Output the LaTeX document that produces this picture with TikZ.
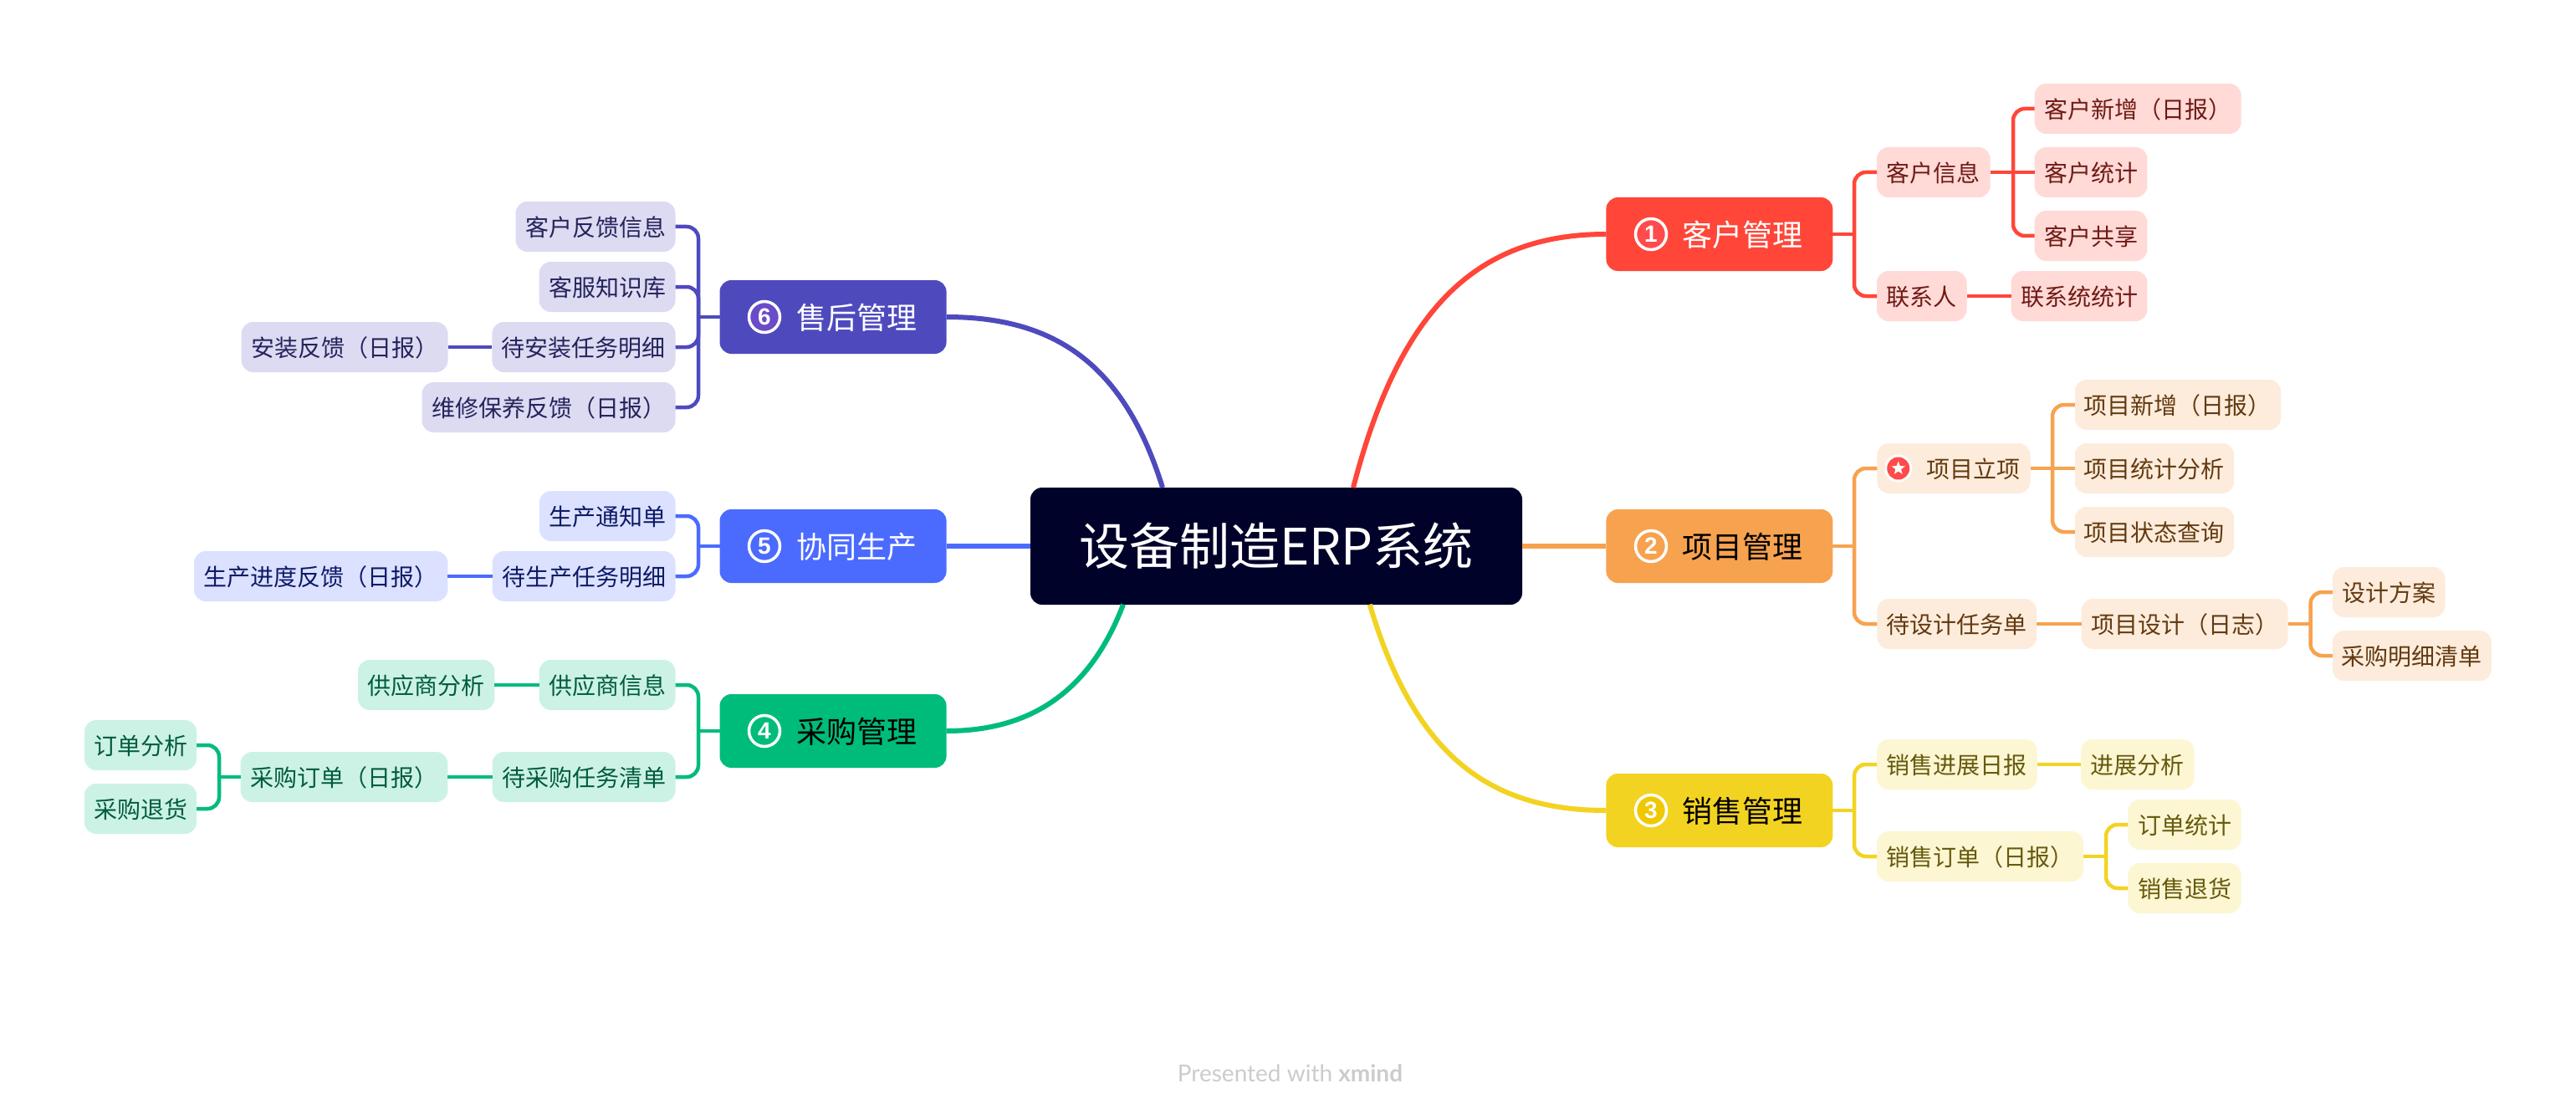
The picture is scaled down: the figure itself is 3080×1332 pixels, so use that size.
\documentclass[tikz,border=0pt]{standalone}
\usepackage{fontspec}
\usetikzlibrary{shapes.geometric}
\setmainfont{Noto Sans CJK SC}
\newfontfamily\footfont{Lato}
\newfontfamily\digitfont{Liberation Sans}
\definecolor{cR}{HTML}{FF4639}\definecolor{lR}{HTML}{FFDAD7}\definecolor{tR}{HTML}{701A14}
\definecolor{cO}{HTML}{F7A24F}\definecolor{lO}{HTML}{FDECDC}\definecolor{tO}{HTML}{633A10}
\definecolor{cY}{HTML}{F3D321}\definecolor{lY}{HTML}{FCF6D3}\definecolor{tY}{HTML}{665A0C}
\definecolor{cG}{HTML}{00BC7B}\definecolor{lG}{HTML}{CCF2E5}\definecolor{tG}{HTML}{005C3C}
\definecolor{cB}{HTML}{4B6BFF}\definecolor{lB}{HTML}{DBE1FF}\definecolor{tB}{HTML}{0C1A66}
\definecolor{cP}{HTML}{4E4ABE}\definecolor{lP}{HTML}{DCDBF2}\definecolor{tP}{HTML}{25235C}
\definecolor{rootc}{HTML}{000229}
\definecolor{bY}{HTML}{F0C800}\definecolor{bP}{HTML}{6A4CC8}\definecolor{bR}{HTML}{FF4B4B}
\tikzset{
  boxbase/.style={rectangle,rounded corners=14pt,inner sep=0pt,outer sep=0pt,align=center},
  subbox/.style={boxbase,minimum height=60pt,text height=27pt,text depth=4pt,font=\fontsize{28}{34}\selectfont},
  mainbox/.style={boxbase,minimum height=88pt,text height=34pt,text depth=5pt,font=\fontsize{36}{44}\selectfont},
  sR/.style={subbox,fill=lR,text=tR},sO/.style={subbox,fill=lO,text=tO},sY/.style={subbox,fill=lY,text=tY},
  sG/.style={subbox,fill=lG,text=tG},sB/.style={subbox,fill=lB,text=tB},sP/.style={subbox,fill=lP,text=tP},
  elbow/.style={line width=4.5pt},
  trunk/.style={line width=6pt},
  badge/.style={circle,draw=white,line width=3.5pt,minimum size=37pt,inner sep=0pt,text=white,font=\digitfont\bfseries\fontsize{28}{30}\selectfont},
}
% name, x1, x2, cy, style, text
\newcommand\boxn[6]{\pgfmathsetmacro\bxc{(#2+#3)/2}\pgfmathsetmacro\bxw{#3-#2}\node[#5,minimum width=\bxw pt] (#1) at (\bxc,#4) {#6};}
% parent, spine coordinate, child (elbow)
\newcommand\elb[4]{\draw[elbow,#4] (#1) -- (#2|-#1);\draw[elbow,#4,rounded corners=14pt] (#2|-#1) |- (#3);}
\begin{document}
\begin{tikzpicture}[x=1pt,y=-1pt]
\useasboundingbox (0,0) rectangle (3080,1332);
\fill[white] (0,0) rectangle (3080,1332);
% root
\node[boxbase,fill=rootc,text=white,minimum width=588pt,minimum height=140pt,text height=52pt,text depth=8pt,font=\fontsize{60}{70}\selectfont] (root) at (1526,653) {设备制造ERP系统};
% main topics
\boxn{m1}{1920.4}{2191.3}{280}{mainbox,fill=cR,text=white}{\hspace*{56pt}客户管理}
\boxn{m2}{1920.4}{2191.3}{653}{mainbox,fill=cO,text=black}{\hspace*{56pt}项目管理}
\boxn{m3}{1920.4}{2191.3}{969}{mainbox,fill=cY,text=black}{\hspace*{56pt}销售管理}
\boxn{m4}{860.5}{1131.6}{874}{mainbox,fill=cG,text=black}{\hspace*{56pt}采购管理}
\boxn{m5}{860.5}{1131.6}{653}{mainbox,fill=cB,text=white}{\hspace*{56pt}协同生产}
\boxn{m6}{860.5}{1131.6}{379}{mainbox,fill=cP,text=white}{\hspace*{56pt}售后管理}
\node[badge,fill=bR] (b1) at (1974,280) {1};
\node[badge,fill=cO] (b2) at (1974,653) {2};
\node[badge,fill=bY] (b3) at (1974,969) {3};
\node[badge,fill=cG] (b4) at (914,874) {4};
\node[badge,fill=cB] (b5) at (914,653) {5};
\node[badge,fill=bP] (b6) at (914,379) {6};
% red
\boxn{a1}{2244}{2379.6}{206}{sR}{客户信息}
\boxn{a2}{2244}{2351.5}{354}{sR}{联系人}
\boxn{a11}{2432.6}{2679.6}{130}{sR}{客户新增（日报）}
\boxn{a12}{2432.6}{2567.4}{206}{sR}{客户统计}
\boxn{a13}{2432.6}{2567.4}{282}{sR}{客户共享}
\boxn{a21}{2404.6}{2567.4}{354}{sR}{联系统统计}
% orange
\boxn{o1}{2244.4}{2427.5}{560}{sO}{\hspace*{48pt}项目立项}
\boxn{o2}{2244.4}{2435}{746}{sO}{待设计任务单}
\boxn{o11}{2480.8}{2727}{484}{sO}{项目新增（日报）}
\boxn{o12}{2480.8}{2671}{560}{sO}{项目统计分析}
\boxn{o13}{2480.8}{2671}{636}{sO}{项目状态查询}
\boxn{o21}{2488.6}{2735.5}{746}{sO}{项目设计（日志）}
\boxn{o211}{2788.8}{2923.5}{708}{sO}{设计方案}
\boxn{o212}{2788.8}{2979}{784}{sO}{采购明细清单}
\node[circle,fill=white,minimum size=33pt,inner sep=0pt] (ring) at (2269.7,560) {};
\node[circle,fill=bR,minimum size=27pt,inner sep=0pt] (dot) at (2269.7,560) {};
\node[star,star points=5,star point ratio=2.4,fill=white,minimum size=17pt,inner sep=0pt] (starico) at (2269.7,560) {};
% yellow
\boxn{y1}{2244}{2435.7}{914}{sY}{销售进展日报}
\boxn{y2}{2244}{2491}{1024}{sY}{销售订单（日报）}
\boxn{y11}{2488}{2623.5}{914}{sY}{进展分析}
\boxn{y21}{2544.4}{2679.6}{986}{sY}{订单统计}
\boxn{y22}{2544.4}{2679.6}{1062}{sY}{销售退货}
% green
\boxn{g1}{644.7}{807.5}{819}{sG}{供应商信息}
\boxn{g11}{428}{591.4}{819}{sG}{供应商分析}
\boxn{g2}{588.6}{807.5}{929}{sG}{待采购任务清单}
\boxn{g21}{287.6}{535.3}{929}{sG}{采购订单（日报）}
\boxn{g211}{101}{235}{891}{sG}{订单分析}
\boxn{g212}{101}{235}{967}{sG}{采购退货}
% blue
\boxn{b51}{645}{807.5}{617}{sB}{生产通知单}
\boxn{b52}{588.6}{807.5}{689}{sB}{待生产任务明细}
\boxn{b521}{232}{535.4}{689}{sB}{生产进度反馈（日报）}
% purple
\boxn{p1}{616.5}{807.5}{271}{sP}{客户反馈信息}
\boxn{p2}{644.6}{807.5}{343}{sP}{客服知识库}
\boxn{p3}{588.4}{807.5}{415}{sP}{待安装任务明细}
\boxn{p31}{288.7}{535.5}{415}{sP}{安装反馈（日报）}
\boxn{p4}{504.5}{807.5}{487}{sP}{维修保养反馈（日报）}
% spines
\coordinate (sR) at (2217,0);\coordinate (sA) at (2407,0);
\coordinate (sO) at (2454,0);\coordinate (sD) at (2762.5,0);
\coordinate (sS) at (2518,0);\coordinate (sL) at (835,0);\coordinate (sC) at (262,0);
% trunks
\coordinate (r1) at (1618,583);\coordinate (r3) at (1637.7,722.7);\coordinate (r4) at (1343,722.7);\coordinate (r6) at (1390,583);
\draw[trunk,cR] (r1) .. controls (1675,363) and (1770,280) .. (m1.west);
\draw[trunk,cO] (root.east) -- (m2.west);
\draw[trunk,cY] (r3) .. controls (1691,902) and (1779,969) .. (m3.west);
\draw[trunk,cG] (r4) .. controls (1301,833) and (1226,874) .. (m4.east);
\draw[trunk,cB] (root.west) -- (m5.east);
\draw[trunk,cP] (r6) .. controls (1344,435) and (1261,379) .. (m6.east);
% elbows
\elb{m1.east}{sR}{a1.west}{cR}\elb{m1.east}{sR}{a2.west}{cR}
\elb{a1.east}{sA}{a11.west}{cR}\draw[elbow,cR] (a1.east) -- (a12.west);\elb{a1.east}{sA}{a13.west}{cR}
\draw[elbow,cR] (a2.east) -- (a21.west);
\elb{m2.east}{sR}{o1.west}{cO}\elb{m2.east}{sR}{o2.west}{cO}
\elb{o1.east}{sO}{o11.west}{cO}\draw[elbow,cO] (o1.east) -- (o12.west);\elb{o1.east}{sO}{o13.west}{cO}
\draw[elbow,cO] (o2.east) -- (o21.west);
\elb{o21.east}{sD}{o211.west}{cO}\elb{o21.east}{sD}{o212.west}{cO}
\elb{m3.east}{sR}{y1.west}{cY}\elb{m3.east}{sR}{y2.west}{cY}
\draw[elbow,cY] (y1.east) -- (y11.west);
\elb{y2.east}{sS}{y21.west}{cY}\elb{y2.east}{sS}{y22.west}{cY}
\elb{m4.west}{sL}{g1.east}{cG}\elb{m4.west}{sL}{g2.east}{cG}
\draw[elbow,cG] (g1.west) -- (g11.east);
\draw[elbow,cG] (g2.west) -- (g21.east);
\elb{g21.west}{sC}{g211.east}{cG}\elb{g21.west}{sC}{g212.east}{cG}
\elb{m5.west}{sL}{b51.east}{cB}\elb{m5.west}{sL}{b52.east}{cB}
\draw[elbow,cB] (b52.west) -- (b521.east);
\elb{m6.west}{sL}{p1.east}{cP}\elb{m6.west}{sL}{p2.east}{cP}\elb{m6.west}{sL}{p3.east}{cP}\elb{m6.west}{sL}{p4.east}{cP}
\draw[elbow,cP] (p3.west) -- (p31.east);
% footer
\node[inner sep=0pt,text=black!20,font=\footfont\fontsize{28}{32}\selectfont] (foot) at (1542.5,1283) {Presented with \textbf{xmind}};
\end{tikzpicture}
\end{document}
